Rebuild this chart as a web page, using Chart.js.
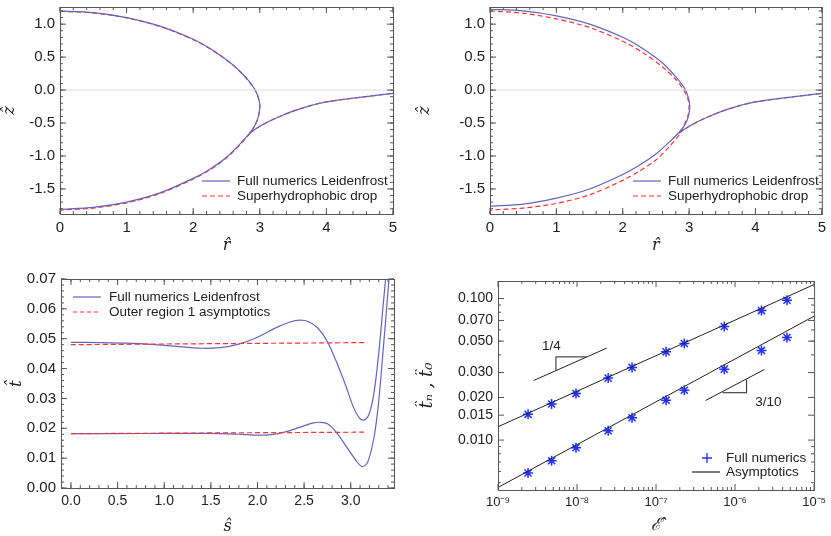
<!DOCTYPE html>
<html>
<head>
<meta charset="utf-8">
<script src="https://cdn.jsdelivr.net/npm/chart.js@4"></script>
<style>
  body { margin: 0; background: #fff; }
  #wrap { position: relative; width: 831px; height: 536px; overflow: hidden; }
  .pan { position: absolute; }
</style>
</head>
<body>
<div id="wrap">
  <div class="pan" style="left:0;top:-7px;width:415px;height:262px"><canvas id="c1"></canvas></div>
  <div class="pan" style="left:415px;top:-7px;width:416px;height:262px"><canvas id="c2"></canvas></div>
  <div class="pan" style="left:0;top:255px;width:415px;height:281px"><canvas id="c3"></canvas></div>
  <div class="pan" style="left:415px;top:255px;width:416px;height:281px"><canvas id="c4"></canvas></div>
</div>
<script>
// ---- data: top left (drop shape, r vs z) ----
const dropLeidenA = [[0,1.20],[0.5,1.175],[1.0,1.10],[1.5,0.97],[2.0,0.77],[2.3,0.60],[2.6,0.38],[2.8,0.18],[2.92,0.02],[2.98,-0.12],[3.0,-0.25],[2.98,-0.40],[2.93,-0.53],[2.85,-0.65],[2.7,-0.82],[2.5,-1.02],[2.25,-1.20],[2.0,-1.34],[1.5,-1.56],[1.0,-1.70],[0.5,-1.78],[0,-1.81]];
const dropSuperA = [[0,1.195],[0.5,1.17],[1.0,1.095],[1.5,0.965],[2.0,0.765],[2.3,0.595],[2.6,0.375],[2.8,0.175],[2.92,0.015],[2.98,-0.12],[3.0,-0.25],[2.98,-0.40],[2.93,-0.53],[2.85,-0.66],[2.7,-0.83],[2.5,-1.03],[2.25,-1.21],[2.0,-1.35],[1.5,-1.57],[1.0,-1.71],[0.5,-1.79],[0,-1.82]];
const tailA = [[2.85,-0.65],[3.0,-0.55],[3.15,-0.47],[3.3,-0.40],[3.5,-0.32],[3.75,-0.24],[4.0,-0.18],[4.5,-0.11],[5.0,-0.05]];
// ---- data: top right ----
const dropLeidenB = [[0,1.225],[0.5,1.20],[1.0,1.125],[1.5,1.0],[2.0,0.80],[2.3,0.63],[2.6,0.41],[2.8,0.20],[2.93,0.03],[2.99,-0.12],[3.01,-0.25],[2.99,-0.40],[2.94,-0.52],[2.85,-0.64],[2.7,-0.79],[2.5,-0.97],[2.25,-1.14],[2.0,-1.28],[1.5,-1.50],[1.0,-1.64],[0.5,-1.73],[0,-1.76]];
const dropSuperB = [[0,1.20],[0.5,1.165],[1.0,1.08],[1.5,0.95],[2.0,0.74],[2.3,0.57],[2.6,0.35],[2.8,0.16],[2.92,0.0],[2.98,-0.13],[3.0,-0.25],[2.98,-0.40],[2.93,-0.52],[2.85,-0.68],[2.7,-0.86],[2.5,-1.06],[2.25,-1.23],[2.0,-1.37],[1.5,-1.59],[1.0,-1.72],[0.5,-1.79],[0,-1.82]];
const tailB = [[2.85,-0.65],[3.0,-0.55],[3.15,-0.47],[3.3,-0.40],[3.5,-0.32],[3.75,-0.24],[4.0,-0.18],[4.5,-0.11],[5.0,-0.05]];
const zeroLine = [[0,0],[5,0]];
const rTicks = [0,1,2,3,4,5];
const zTicks = [-1.5,-1.0,-0.5,0.0,0.5,1.0];
// ---- data: bottom left (s vs t) ----
const tUpper = [[0,0.0488],[0.3,0.0487],[0.6,0.0485],[0.9,0.048],[1.1,0.0475],[1.4,0.0468],[1.6,0.047],[1.8,0.0482],[2.0,0.0505],[2.2,0.0537],[2.35,0.0556],[2.45,0.0562],[2.55,0.0557],[2.65,0.0535],[2.75,0.049],[2.85,0.042],[2.95,0.034],[3.03,0.027],[3.1,0.0232],[3.15,0.0228],[3.2,0.025],[3.25,0.032],[3.3,0.045],[3.35,0.062],[3.38,0.072]];
const tLower = [[0,0.0182],[0.5,0.0182],[1.0,0.0183],[1.5,0.0183],[1.8,0.018],[2.0,0.0177],[2.15,0.0179],[2.3,0.0188],[2.45,0.0203],[2.6,0.0218],[2.68,0.022],[2.75,0.0215],[2.85,0.0185],[2.95,0.014],[3.05,0.0095],[3.12,0.0072],[3.18,0.0085],[3.25,0.017],[3.3,0.029],[3.35,0.047],[3.4,0.066],[3.42,0.074]];
const asymUpper = [[0,0.048],[3.15,0.0487]];
const asymLower = [[0,0.0182],[3.15,0.0187]];
const sTicks = [0,0.5,1.0,1.5,2.0,2.5,3.0];
const tTicks = [0,0.01,0.02,0.03,0.04,0.05,0.06,0.07];
// ---- data: bottom right (log-log) ----
const epsVals = [2.40e-9,4.77e-9,9.7e-9,2.48e-8,4.97e-8,1.34e-7,2.28e-7,7.3e-7,2.16e-6,4.54e-6];
const tnVals = [0.0152,0.0180,0.0213,0.0274,0.0326,0.0420,0.0481,0.0634,0.0822,0.0973];
const t0Vals = [0.00585,0.00715,0.00883,0.01164,0.01438,0.01915,0.0225,0.0317,0.0430,0.0531];
const asymTn = [[1e-9,0.01242],[1e-5,0.1255]];
const asymT0 = [[1e-9,0.00463],[1e-5,0.075]];
const slope14 = [[2.83e-9,0.02637],[2.37e-8,0.0446]];
const tri14 = [[5.41e-9,0.0312],[5.41e-9,0.0387],[1.31e-8,0.0387]];
const slope310 = [[4.24e-7,0.01905],[2.36e-6,0.03157]];
const tri310 = [[6.92e-7,0.0216],[1.40e-6,0.0216],[1.40e-6,0.0268]];
const epsTicks = [1e-9,1e-8,1e-7,1e-6,1e-5];
const tnTicks = [0.010,0.015,0.020,0.030,0.050,0.070,0.100];

const BLUE = 'rgb(100,100,190)';
const RED = '#ff3333';
const FONT = 'Liberation Sans';
const pts = arr => arr.map(p => ({ x: p[0], y: p[1] }));

function line(data, color, dash, w, tension) {
    return { data: pts(data), showLine: true, borderColor: color, borderWidth: w || 1.2,
             borderDash: dash || [], pointRadius: 0, tension: tension === undefined ? 0.3 : tension, fill: false };
}

// frame with inward ticks on all four sides
const framePlugin = {
    id: 'frame',
    afterDraw(chart, args, o) {
        const c = chart.ctx, a = chart.chartArea;
        c.save();
        c.strokeStyle = '#555';
        c.lineWidth = 1;
        c.strokeRect(a.left + 0.5, a.top + 0.5, a.right - a.left, a.bottom - a.top);
        const drawT = (scale, vals, len, horiz) => {
            vals.forEach(v => {
                const p = scale.getPixelForValue(v);
                if (horiz) {
                    if (p < a.left - 0.5 || p > a.right + 0.5) return;
                    c.beginPath(); c.moveTo(p, a.bottom); c.lineTo(p, a.bottom - len);
                    c.moveTo(p, a.top); c.lineTo(p, a.top + len); c.stroke();
                } else {
                    if (p < a.top - 0.5 || p > a.bottom + 0.5) return;
                    c.beginPath(); c.moveTo(a.left, p); c.lineTo(a.left + len, p);
                    c.moveTo(a.right, p); c.lineTo(a.right - len, p); c.stroke();
                }
            });
        };
        drawT(chart.scales.x, o.xMajor, 6, true);
        drawT(chart.scales.x, o.xMinor, 3, true);
        drawT(chart.scales.y, o.yMajor, 6, false);
        drawT(chart.scales.y, o.yMinor, 3, false);
        // legend
        c.font = '13.5px ' + FONT;
        c.textBaseline = 'middle';
        (o.legend || []).forEach(it => {
            c.setLineDash(it.dash || []);
            if (it.marker) {
                c.strokeStyle = it.color; c.lineWidth = 1.3;
                c.beginPath(); c.moveTo(it.x - 5, it.y); c.lineTo(it.x + 5, it.y);
                c.moveTo(it.x, it.y - 5); c.lineTo(it.x, it.y + 5); c.stroke();
            } else {
                c.strokeStyle = it.color; c.lineWidth = 1.2;
                c.beginPath(); c.moveTo(it.x, it.y); c.lineTo(it.x + 28, it.y); c.stroke();
            }
            c.setLineDash([]);
            c.fillStyle = '#222';
            c.fillText(it.text, it.tx, it.y);
        });
        (o.notes || []).forEach(n => {
            c.fillStyle = '#222';
            c.fillText(n.text, chart.scales.x.getPixelForValue(n.x), chart.scales.y.getPixelForValue(n.y));
        });
        c.restore();
    }
};

function axis(opts) {
    return {
        type: opts.type || 'linear', min: opts.min, max: opts.max,
        grid: { display: false, drawTicks: false }, border: { display: false },
        afterBuildTicks: s => { s.ticks = opts.ticks.map(v => ({ value: v })); },
        afterFit: s => { if (opts.w) s.width = opts.w; if (opts.h) s.height = opts.h; },
        ticks: { font: { family: FONT, size: opts.fs || 15 }, color: '#222', padding: opts.pad || 5,
                 autoSkip: false, maxRotation: 0, callback: opts.fmt },
        title: { display: true, text: opts.title, color: '#222', padding: opts.tpad || 0,
                 font: { family: 'DejaVu Serif', style: 'italic', size: opts.tfs || 16 } }
    };
}

function minorLin(a, b, step) {
    const out = [];
    for (let v = a; v <= b + 1e-9; v += step) out.push(+v.toFixed(6));
    return out;
}
function minorLog(lo, hi) {
    const out = [];
    for (let d = lo; d <= hi; d *= 10) for (let k = 2; k < 10; k++) out.push(d * k);
    return out;
}

function topChart(id, lead, sup, tail, yw, pr, legendX) {
    new Chart(document.getElementById(id), {
        type: 'scatter',
        data: { datasets: [
            line(zeroLine, '#dddddd', [], 1),
            line(lead, BLUE), line(tail, BLUE),
            line(sup, RED, [5, 3]), line(tail, RED, [5, 3])
        ] },
        options: {
            responsive: true, maintainAspectRatio: false, animation: false,
            layout: { padding: { top: 6, right: pr, left: 0, bottom: 0 } },
            plugins: { legend: { display: false }, tooltip: { enabled: false },
                frame: { xMajor: rTicks, xMinor: minorLin(0, 5, 0.2), yMajor: zTicks, yMinor: minorLin(-1.8, 1.2, 0.1),
                    legend: [
                        { x: legendX, y: 188, tx: legendX + 35, color: BLUE, text: 'Full numerics Leidenfrost' },
                        { x: legendX, y: 203, tx: legendX + 35, color: RED, dash: [5, 3], text: 'Superhydrophobic drop' }
                    ] } },
            scales: {
                x: axis({ min: 0, max: 5, ticks: rTicks, h: 41, title: 'r\u0302', fmt: v => v }),
                y: axis({ min: -1.88, max: 1.26, ticks: zTicks, w: yw, title: 'z\u0302', fmt: v => v.toFixed(1) })
            }
        },
        plugins: [framePlugin]
    });
}

topChart('c1', dropLeidenA, dropSuperA, tailA, 60, 22, 202);
topChart('c2', dropLeidenB, dropSuperB, tailB, 75, 8, 218);

new Chart(document.getElementById('c3'), {
    type: 'scatter',
    data: { datasets: [
        line(asymUpper, RED, [5, 3]), line(asymLower, RED, [5, 3]),
        line(tUpper, BLUE), line(tLower, BLUE)
    ] },
    options: {
        responsive: true, maintainAspectRatio: false, animation: false,
        layout: { padding: { top: 24, right: 21, left: 0, bottom: 0 } },
        plugins: { legend: { display: false }, tooltip: { enabled: false },
            frame: { xMajor: sTicks, xMinor: minorLin(0, 3.4, 0.1), yMajor: tTicks, yMinor: minorLin(0, 0.07, 0.002),
                legend: [
                    { x: 73, y: 42, tx: 109, color: BLUE, text: 'Full numerics Leidenfrost' },
                    { x: 73, y: 57, tx: 109, color: RED, dash: [4, 3], text: 'Outer region 1 asymptotics' }
                ] } },
        scales: {
            x: axis({ min: -0.107, max: 3.464, ticks: sTicks, h: 48, fs: 14, title: 's\u0302', fmt: v => v.toFixed(1) }),
            y: axis({ min: 0, max: 0.07, ticks: tTicks, w: 61, fs: 15, title: 't\u0302', tfs: 17, tpad: 6, fmt: v => v.toFixed(2) })
        }
    },
    plugins: [framePlugin]
});

const sup = { '-': '\u207B', '0': '\u2070', '1': '\u00B9', '5': '\u2075', '6': '\u2076', '7': '\u2077', '8': '\u2078', '9': '\u2079' };
new Chart(document.getElementById('c4'), {
    type: 'scatter',
    data: { datasets: [
        line(asymTn, '#222', [], 1, 0), line(asymT0, '#222', [], 1, 0),
        line(slope14, '#222', [], 1, 0), line(tri14, '#222', [], 1, 0),
        line(slope310, '#222', [], 1, 0), line(tri310, '#222', [], 1, 0),
        { data: epsVals.map((e, i) => ({ x: e, y: tnVals[i] })), pointStyle: 'star', pointRadius: 5,
          borderColor: '#2233ff', borderWidth: 1.5, showLine: false },
        { data: epsVals.map((e, i) => ({ x: e, y: t0Vals[i] })), pointStyle: 'star', pointRadius: 5,
          borderColor: '#2233ff', borderWidth: 1.5, showLine: false }
    ] },
    options: {
        responsive: true, maintainAspectRatio: false, animation: false,
        layout: { padding: { top: 26, right: 14, left: 0, bottom: 0 } },
        plugins: { legend: { display: false }, tooltip: { enabled: false },
            frame: { xMajor: epsTicks, xMinor: minorLog(1e-9, 1e-6), yMajor: tnTicks, yMinor: minorLog(0.001, 0.1),
                legend: [
                    { marker: true, x: 292, y: 203, tx: 311, color: '#2233ff', text: 'Full numerics' },
                    { x: 277, y: 217, tx: 311, color: '#222', text: 'Asymptotics' }
                ],
                notes: [ { text: '1/4', x: 3.6e-9, y: 0.046 }, { text: '3/10', x: 1.8e-6, y: 0.0185 } ] } },
        scales: {
            x: axis({ type: 'logarithmic', min: 1e-9, max: 1e-5, ticks: epsTicks, h: 46, fs: 13, title: '\u2130\u0302', tfs: 17,
                      fmt: v => '10' + String(Math.round(Math.log10(v))).split('').map(ch => sup[ch]).join('') }),
            y: axis({ type: 'logarithmic', min: 0.00444, max: 0.133, ticks: tnTicks, w: 83, fs: 14, title: 't\u0302\u2099 , t\u0302\u2080', tfs: 18, tpad: 2,
                      fmt: v => v.toFixed(3) })
        }
    },
    plugins: [framePlugin]
});
</script>
</body>
</html>
